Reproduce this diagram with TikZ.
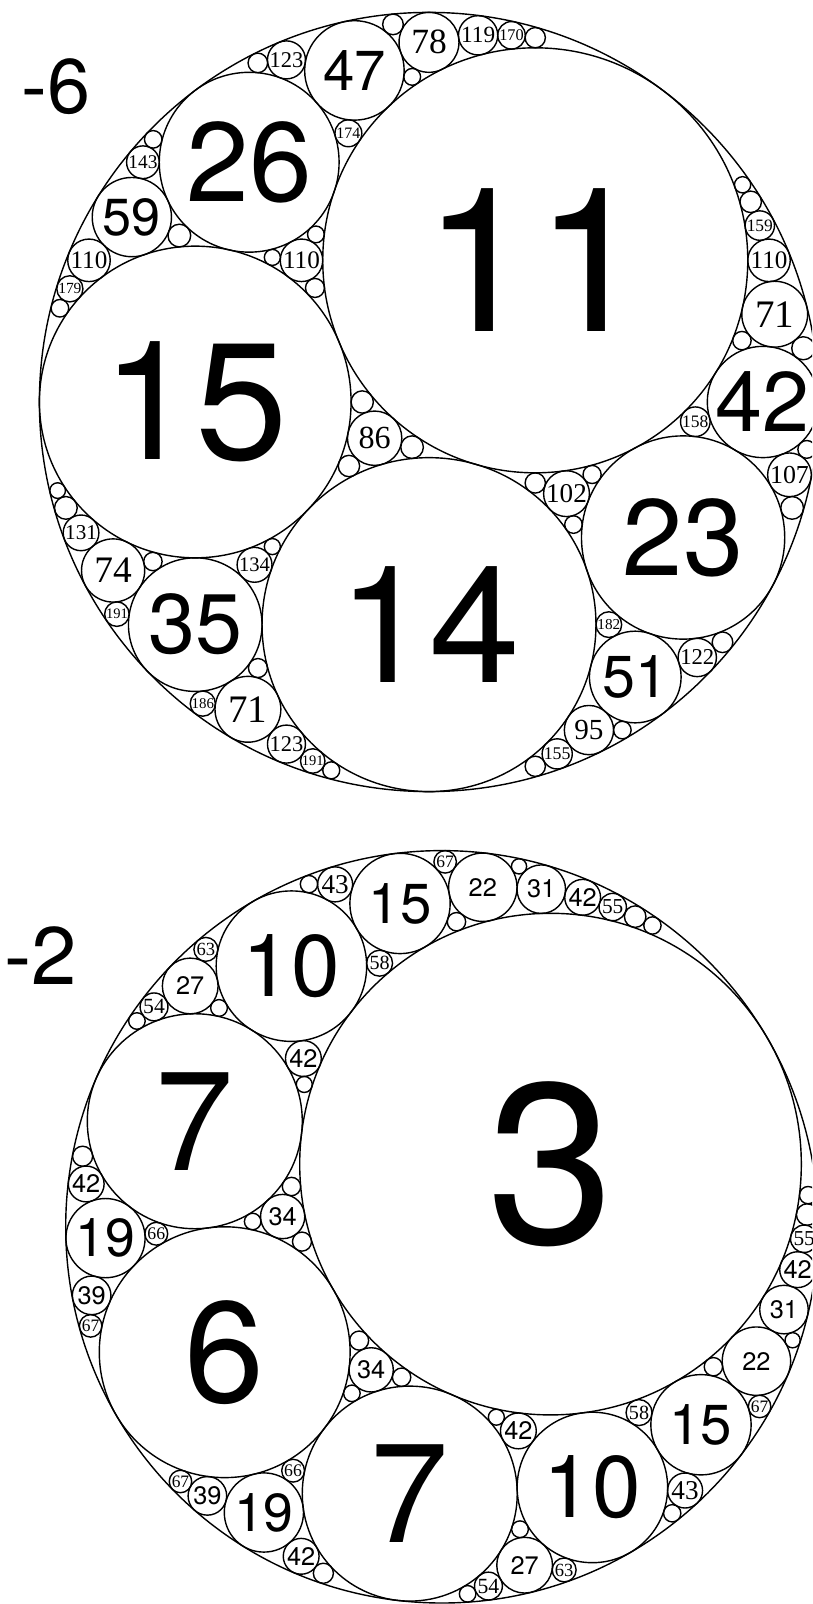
\documentclass[tikz,border=0pt]{standalone}
\usepackage{fontspec}
\setmainfont{Liberation Serif}
\setsansfont{TeX Gyre Heros}
\usepackage{xfp}
\tikzset{
  ring/.style ={draw=black, line width=0.4pt},
  num/.style  ={inner sep=0pt, outer sep=0pt, text=black, anchor=center},
  big/.style  ={num, font=\sffamily\fontsize{#1}{#1}\selectfont}
}
% a circle is {k}{k*x}{k*y}
\def\ck#1#2#3{#1}
\def\cx#1#2#3{#2}
\def\cy#1#2#3{#3}
% name, centre x, centre y (px), px per unit, k to draw, k to label, k sans, serif factor
\newcommand\gasket[8]{%
  \def\gname{#1}\def\gxo{#2}\def\gyo{#3}\def\gsc{#4}%
  \def\kdraw{#5}\def\klab{#6}\def\ksans{#7}\def\sfac{#8}}
% label heights (px) of the sans numbers
\newcommand\setsizes[2]{%
  \foreach \k/\h in {#2}{\expandafter\xdef\csname h#1\k\endcsname{\h}}}
\setsizes{T}{11/143,14/116,15/118,23/77,26/80,35/60,42/60,47/40,51/42,59/37}
\setsizes{B}{3/162,6/102,7/100,10/62,15/40,19/38}
\def\hsans{18}

\newcommand\gcirc[3]{%
  \edef\cpx{\fpeval{round(\gxo+\gsc*(#2)/(#1),2)}}%
  \edef\cpy{\fpeval{round(\gyo+\gsc*(#3)/(#1),2)}}%
  \edef\cpr{\fpeval{round(abs(\gsc/(#1)),2)}}%
  \draw[ring] (\cpx,\cpy) circle (\cpr);
  \ifdim #1pt<\klab pt
    \ifcsname h\gname#1\endcsname
      \edef\lh{\csname h\gname#1\endcsname}\let\lfam\sffamily\def\ldig{0.71}%
    \else\ifdim #1pt<\ksans pt
      \let\lh\hsans\let\lfam\sffamily\def\ldig{0.71}%
    \else
      \edef\lh{\fpeval{\sfac*\cpr}}\let\lfam\rmfamily\def\ldig{0.676}%
    \fi\fi
    \edef\lfs{\fpeval{round(\lh*0.28453/\ldig,2)}pt}%
    \node[num, font=\lfam\fontsize{\lfs}{\lfs}\selectfont] (n#1) at (\cpx,\cpy) {#1};
  \fi}

% reflect the 4th circle in the triple, draw it, go on
\newcommand\apol[4]{%
  \edef\nk{\fpeval{2*(\ck#1+\ck#2+\ck#3)-(\ck#4)}}%
  \ifdim\nk pt<\kdraw pt
    \edef\nx{\fpeval{2*(\cx#1+\cx#2+\cx#3)-(\cx#4)}}%
    \edef\ny{\fpeval{2*(\cy#1+\cy#2+\cy#3)-(\cy#4)}}%
    \edef\apnext{\noexpand\gcirc{\nk}{\nx}{\ny}%
      \noexpand\apol{#1}{#2}{{\nk}{\nx}{\ny}}{#3}%
      \noexpand\apol{#1}{#3}{{\nk}{\nx}{\ny}}{#2}%
      \noexpand\apol{#2}{#3}{{\nk}{\nx}{\ny}}{#1}}%
    \expandafter\apnext
  \fi}

\begin{document}
\begin{tikzpicture}[x=0.01cm, y=0.01cm]
\useasboundingbox (0,0) rectangle (812,-1604);
\clip (0,0) rectangle (812,-1604);

% -6 11 14 15
\gasket{T}{429}{-402}{2337.6}{300}{200}{65}{0.8}
\draw[ring] (429,-402) circle (389.6);
\node[big=22pt] (kT) at (56,-87) {-6};
\gcirc{11}{0.5}{0.666666666667}
\gcirc{14}{0}{-1.333333333333}
\gcirc{15}{-1.5}{0}
\apol{{-6}{0}{0}}{{11}{0.5}{0.666666666667}}{{14}{0}{-1.333333333333}}{{15}{-1.5}{0}}
\apol{{-6}{0}{0}}{{11}{0.5}{0.666666666667}}{{15}{-1.5}{0}}{{14}{0}{-1.333333333333}}
\apol{{-6}{0}{0}}{{14}{0}{-1.333333333333}}{{15}{-1.5}{0}}{{11}{0.5}{0.666666666667}}
\apol{{11}{0.5}{0.666666666667}}{{14}{0}{-1.333333333333}}{{15}{-1.5}{0}}{{-6}{0}{0}}

% -2 3 6 7
\gasket{B}{441.9}{-1226.8}{752.4}{100}{70}{42.5}{1.05}
\draw[ring] (441.9,-1226.8) circle (376.2);
\node[big=23.2pt] (kB) at (41,-956) {-2};
\gcirc{3}{0.433012701892}{0.25}
\gcirc{6}{-1.732050807569}{-1}
\gcirc{7}{-2.299038105677}{0.982050807569}
\apol{{-2}{0}{0}}{{3}{0.433012701892}{0.25}}{{6}{-1.732050807569}{-1}}{{7}{-2.299038105677}{0.982050807569}}
\apol{{-2}{0}{0}}{{3}{0.433012701892}{0.25}}{{7}{-2.299038105677}{0.982050807569}}{{6}{-1.732050807569}{-1}}
\apol{{-2}{0}{0}}{{6}{-1.732050807569}{-1}}{{7}{-2.299038105677}{0.982050807569}}{{3}{0.433012701892}{0.25}}
\apol{{3}{0.433012701892}{0.25}}{{6}{-1.732050807569}{-1}}{{7}{-2.299038105677}{0.982050807569}}{{-2}{0}{0}}
\end{tikzpicture}
\end{document}
